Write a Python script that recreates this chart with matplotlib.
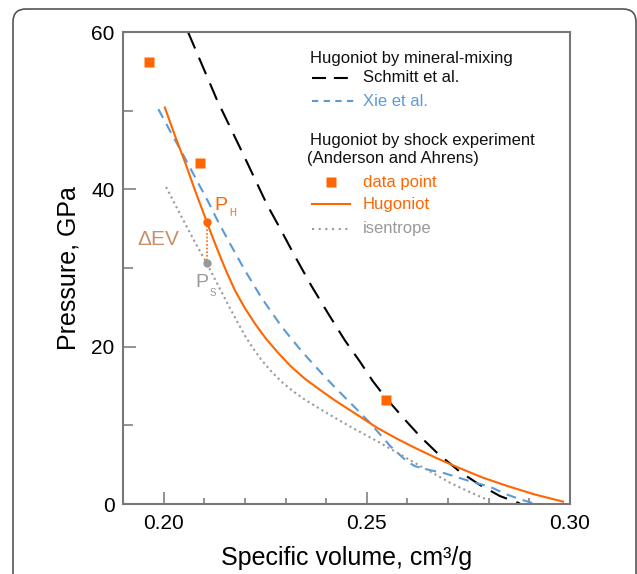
import matplotlib.pyplot as plt
from matplotlib.lines import Line2D
from matplotlib.patches import FancyBboxPatch
from matplotlib.ticker import MultipleLocator

plt.rcParams["font.family"] = ["Liberation Sans", "DejaVu Sans"]

ORANGE = "#ff6600"
BLUE = "#5b9bd5"
GRAY = "#999999"
TAN = "#c98e68"
SPINE = "#777777"

# Hugoniot from mineral mixing (Schmitt et al.)
schmitt_v = [0.2060, 0.2131, 0.2200, 0.2254, 0.2291, 0.2323, 0.2364, 0.2405,
             0.2446, 0.2483, 0.2515, 0.2545, 0.2594, 0.2631, 0.2673, 0.2729,
             0.2779, 0.2828, 0.2877]
schmitt_p = [60.0, 51.4, 44.0, 38.1, 34.6, 31.5, 27.7, 24.2,
             20.8, 18.1, 15.6, 13.6, 10.7, 8.6, 6.5, 4.1,
             2.4, 1.0, 0.06]

# Hugoniot from mineral mixing (Xie et al.)
xie_v = [0.1987, 0.2016, 0.2048, 0.2085, 0.2110, 0.2131, 0.2159, 0.2200,
         0.2241, 0.2291, 0.2340, 0.2389, 0.2422, 0.2476, 0.2508, 0.2557,
         0.2599, 0.2619, 0.2656, 0.2692, 0.2729, 0.2766, 0.2803, 0.2840,
         0.2877, 0.2909]
xie_p = [50.2, 47.4, 44.4, 40.8, 38.4, 36.2, 33.5, 29.7,
         26.2, 22.5, 19.4, 16.6, 14.8, 12.0, 10.3, 7.4,
         5.4, 4.8, 4.3, 3.9, 3.3, 2.7, 2.2, 1.3,
         0.6, 0.1]

# shock experiment (Anderson and Ahrens)
data_v = [0.1964, 0.2089, 0.2547]
data_p = [56.2, 43.3, 13.2]

hug_v = [0.2003, 0.2028, 0.2053, 0.2077, 0.2106, 0.2119, 0.2135, 0.2154,
         0.2176, 0.2200, 0.2225, 0.2252, 0.2282, 0.2313, 0.2348, 0.2385,
         0.2422, 0.2473, 0.2525, 0.2574, 0.2624, 0.2673, 0.2722, 0.2783,
         0.2845, 0.2914, 0.2983]
hug_p = [50.4, 46.8, 43.4, 39.9, 35.9, 34.1, 32.0, 29.6,
         27.1, 24.9, 22.9, 21.0, 19.2, 17.5, 15.9, 14.5,
         13.15, 11.45, 9.7, 8.3, 7.0, 5.8, 4.7, 3.4,
         2.3, 1.2, 0.3]

isen_v = [0.2006, 0.2040, 0.2077, 0.2106, 0.2124, 0.2141, 0.2159, 0.2181,
          0.2200, 0.2220, 0.2241, 0.2264, 0.2291, 0.2318, 0.2348, 0.2405,
          0.2464, 0.2525, 0.2614, 0.2705, 0.2754, 0.2803]
isen_p = [40.3, 36.9, 33.3, 30.6, 28.8, 27.1, 25.3, 23.2,
          21.4, 19.8, 18.3, 16.9, 15.5, 14.35, 13.25, 11.45,
          9.7, 8.0, 5.35, 2.7, 1.5, 0.4]

ph_v, ph_p = 0.2106, 35.9
ps_v, ps_p = 0.2106, 30.6

fig = plt.figure(figsize=(6.37, 5.74), dpi=100)
ax = fig.add_axes([123 / 637, 1 - 504 / 574, 447 / 637, 472 / 574])

# outer rounded frame, runs off the bottom of the picture
frame = FancyBboxPatch((0.13, -0.5), 6.23, 6.15,
                       boxstyle="round,pad=0,rounding_size=0.13",
                       transform=fig.dpi_scale_trans, fill=False,
                       edgecolor="#555555", linewidth=1.2, clip_on=False)
fig.add_artist(frame)

ax.plot(schmitt_v, schmitt_p, color="black", lw=1.5, dashes=(8.6, 4.8))
ax.plot(xie_v, xie_p, color=BLUE, lw=1.5, dashes=(4.8, 3.3))
ax.plot(hug_v, hug_p, color=ORANGE, lw=1.5)
ax.plot(isen_v, isen_p, color=GRAY, lw=1.5, dashes=(1, 1.6))
ax.plot(data_v, data_p, "s", color=ORANGE, ms=6.7, mec="none")

ax.plot([ph_v, ps_v], [ph_p, ps_p], color=ORANGE, lw=1.2, dashes=(1, 1.2))
ax.plot(ph_v, ph_p, "o", color=ORANGE, ms=6, mec="none")
ax.plot(ps_v, ps_p, "o", color=GRAY, ms=6, mec="none")

ax.text(0.2126, 38.0, "P", color=ORANGE, fontsize=14, va="center", ha="left")
ax.text(0.2161, 37.0, "H", color=ORANGE, fontsize=7, va="center", ha="left")
ax.text(0.2077, 28.1, "P", color=GRAY, fontsize=14, va="center", ha="left")
ax.text(0.2112, 26.8, "S", color=GRAY, fontsize=7, va="center", ha="left")
ax.text(0.19345, 33.6, "ΔEV", color=TAN, fontsize=15, va="center", ha="left")

ax.set_xlim(0.19, 0.30)
ax.set_ylim(0, 60)
ax.xaxis.set_major_locator(MultipleLocator(0.05))
ax.xaxis.set_minor_locator(MultipleLocator(0.01))
ax.yaxis.set_major_locator(MultipleLocator(20))
ax.yaxis.set_minor_locator(MultipleLocator(10))
ax.xaxis.set_major_formatter(plt.FuncFormatter(lambda v, _: f"{v:.2f}"))

for s in ax.spines.values():
    s.set_color(SPINE)
    s.set_linewidth(1.5)
ax.tick_params(which="both", direction="in", color=SPINE, width=1.1,
               labelsize=15, top=False, right=False)
ax.tick_params(axis="x", which="major", length=8.5, pad=7)
ax.tick_params(axis="x", which="minor", length=4.5)
ax.tick_params(axis="y", which="major", length=9.5, pad=6)
ax.tick_params(axis="y", which="minor", length=7)

ax.set_xlabel("Specific volume, cm³/g", fontsize=18)
ax.set_ylabel("Pressure, GPa", fontsize=18)
ax.xaxis.set_label_coords(0.5, -0.114)
ax.xaxis.label.set_va("center")
ax.yaxis.set_label_coords(-0.121, 0.5)
ax.yaxis.label.set_va("center")


# hand-built legend, placed in axes fractions from pixel positions
def ax_x(px):
    return (px - 123) / 447


def ax_y(py):
    return (504 - py) / 472


tx = ax_x(363)
lx0, lx1 = ax_x(312), ax_x(350)
kw = dict(transform=ax.transAxes, fontsize=12, va="center", ha="left")
ax.text(ax_x(310), ax_y(58), "Hugoniot by mineral-mixing", color="#111111", **kw)
ax.add_line(Line2D([lx0, lx1], [ax_y(78)] * 2, transform=ax.transAxes,
                   color="black", lw=1.5, dashes=(6.7, 3.8), clip_on=False))
ax.text(tx, ax_y(78), "Schmitt et al.", color="#111111", **kw)
ax.add_line(Line2D([lx0, ax_x(355)], [ax_y(101)] * 2, transform=ax.transAxes,
                   color=BLUE, lw=1.5, dashes=(3.0, 2.6), clip_on=False))
ax.text(tx, ax_y(101), "Xie et al.", color=BLUE, **kw)
ax.text(ax_x(310), ax_y(140), "Hugoniot by shock experiment", color="#111111", **kw)
ax.text(ax_x(307), ax_y(158), "(Anderson and Ahrens)", color="#111111", **kw)
ax.add_line(Line2D([ax_x(331)], [ax_y(182)], transform=ax.transAxes,
                   marker="s", ms=6.7, color=ORANGE, mec="none", ls="none",
                   clip_on=False))
ax.text(tx, ax_y(182), "data point", color=ORANGE, **kw)
ax.add_line(Line2D([lx0, lx1], [ax_y(204)] * 2, transform=ax.transAxes,
                   color=ORANGE, lw=1.5, clip_on=False))
ax.text(tx, ax_y(204), "Hugoniot", color=ORANGE, **kw)
ax.add_line(Line2D([lx0, lx1], [ax_y(229)] * 2, transform=ax.transAxes,
                   color=GRAY, lw=1.5, dashes=(1, 2.2), clip_on=False))
ax.text(tx, ax_y(229), "isentrope", color=GRAY, **kw)

fig.savefig("out.png", dpi=100)
